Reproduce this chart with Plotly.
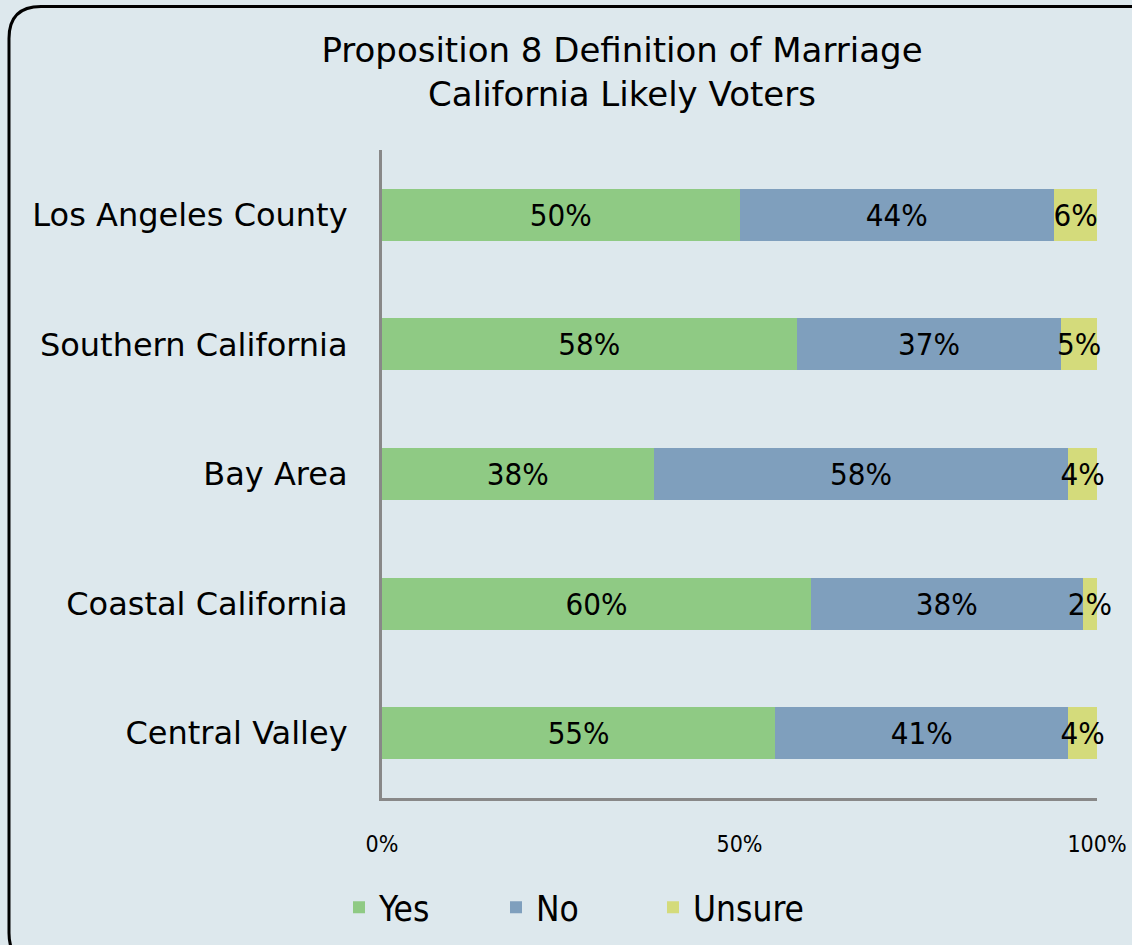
import plotly.graph_objects as go

categories = ["Los Angeles County", "Southern California", "Bay Area", "Coastal California", "Central Valley"]
yes_vals = [50, 58, 38, 60, 55]
no_vals = [44, 37, 58, 38, 41]
unsure_vals = [6, 5, 4, 2, 4]
series_names = ["Yes", "No", "Unsure"]
x_ticks = [0, 50, 100]
x_tick_labels = ["0%", "50%", "100%"]

colors = ["#8fca84", "#7f9fbd", "#d4db7b"]
BG = "#dde8ed"
COND = "DejaVu Sans Condensed, Liberation Sans Narrow, sans-serif"
HUMAN = "DejaVu Sans, Verdana, sans-serif"

W, H = 1132, 945
ML, MR, MT, MB = 382, 35, 150, 147
PW, PH = W - ML - MR, H - MT - MB

fig = go.Figure()
for name, vals, col in zip(series_names, [yes_vals, no_vals, unsure_vals], colors):
    fig.add_trace(go.Bar(
        name=name, y=categories, x=vals, orientation="h",
        marker=dict(color=col, line=dict(width=0)),
        text=[f"{v}%" for v in vals], textposition="inside", textangle=0,
        insidetextanchor="middle", constraintext="none",
        textfont=dict(family=COND, size=31, color="black"),
        cliponaxis=False, width=0.4,
    ))

def pt(px, py):
    x = (px - ML) / PW
    y = (MT + PH - py) / PH
    return f"{x:.5f},{y:.5f}"

x0, y0, x1, y1, r = 9, 6.5, 1165, 965, 32
path = (f"M {pt(x0 + r, y0)} L {pt(x1 - r, y0)} Q {pt(x1, y0)} {pt(x1, y0 + r)} "
        f"L {pt(x1, y1 - r)} Q {pt(x1, y1)} {pt(x1 - r, y1)} "
        f"L {pt(x0 + r, y1)} Q {pt(x0, y1)} {pt(x0, y1 - r)} "
        f"L {pt(x0, y0 + r)} Q {pt(x0, y0)} {pt(x0 + r, y0)} Z")

fig.update_layout(
    width=W, height=H, barmode="stack",
    paper_bgcolor=BG, plot_bgcolor=BG,
    margin=dict(l=ML, r=MR, t=MT, b=MB, autoexpand=False),
    title=dict(text="Proposition 8 Definition of Marriage<br>California Likely Voters",
               x=622 / W, xanchor="center", xref="container",
               y=1 - 62 / H, yanchor="middle", yref="container",
               font=dict(family=HUMAN, size=34, color="black")),
    xaxis=dict(range=[0, 100], tickvals=x_ticks, ticktext=x_tick_labels,
               showgrid=False, zeroline=False, showline=True, linecolor="#888888", linewidth=3,
               ticks="", ticklabelstandoff=23,
               tickfont=dict(family=COND, size=23, color="black")),
    yaxis=dict(autorange="reversed", showgrid=False, zeroline=False, showline=True,
               linecolor="#888888", linewidth=3, ticks="", ticklabelstandoff=25,
               tickfont=dict(family=HUMAN, size=32, color="black")),
    legend=dict(orientation="h", xref="container", yref="container",
                x=339 / W, y=1 - 878 / H, xanchor="left", yanchor="top",
                font=dict(family=COND, size=35, color="black"),
                entrywidth=112, traceorder="normal", bgcolor="rgba(0,0,0,0)"),
    shapes=[dict(type="path", path=path, xref="paper", yref="paper",
                 line=dict(color="black", width=3), fillcolor="rgba(0,0,0,0)", layer="above")],
    showlegend=True,
)

fig.write_html("out.html", config={"displayModeBar": False},
               post_script="document.body.style.margin='0px';document.body.style.background='#dde8ed';")
